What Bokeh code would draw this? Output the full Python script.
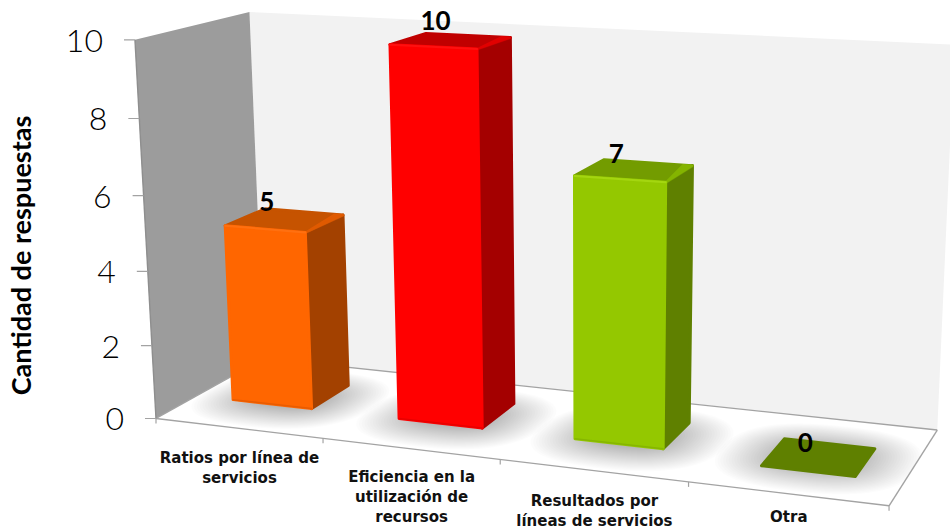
import numpy as np
from bokeh.embed import file_html
from bokeh.models import Range1d
from bokeh.plotting import figure
from bokeh.resources import INLINE
from bokeh.core.properties import value as fixed

# Chart content
categories = ["Ratios por línea de\nservicios",
              "Eficiencia en la\nutilización de\nrecursos",
              "Resultados por\nlíneas de servicios",
              "Otra"]
responses = [5, 10, 7, 0]
y_ticks = [0, 2, 4, 6, 8, 10]
y_title = "Cantidad de respuestas"

# Bar colours: front, side, top, rim on the front's upper edge, glint at the rear top corner
front_colors = ["#FF6600", "#FF0000", "#94C800", "#5F8000"]
side_colors = ["#A34100", "#A40000", "#5F8000", "#5F8000"]
top_colors = ["#C65300", "#C00000", "#739C00", "#5F8000"]
rim_colors = ["#FF7010", "#FF1010", "#A4D610", "#5F8000"]
glint_colors = ["#E05A00", "#E00000", "#84B400", "#5F8000"]
foot_colors = ["#E85C00", "#E80000", "#86B600", "#5F8000"]

# Camera calibration: box corners (category, value, depth) and where they land on the page
model_pts = [(0, 0, 0), (0, 10, 0), (0, 10, 1), (0, 0, 1),
             (4, 0, 0), (4, 0, 1), (4, 10, 1),
             (1, 0, 0), (2, 0, 0), (3, 0, 0), (0, 5, 0)]
page_pts = [(156, 417), (135, 39), (249, 12), (263, 358),
            (888, 505), (937, 429), (954, 44),
            (323, 438), (500, 460), (688, 482), (144, 233)]


def fit_camera(model, page):
    rows = []
    for (X, Y, Z), (u, v) in zip(model, page):
        rows.append([X, Y, Z, 1, 0, 0, 0, 0, -u * X, -u * Y, -u * Z, -u])
        rows.append([0, 0, 0, 0, X, Y, Z, 1, -v * X, -v * Y, -v * Z, -v])
    return np.linalg.svd(np.array(rows, dtype=float))[2][-1].reshape(3, 4)


CAM = fit_camera(model_pts, page_pts)


def proj(x, y, z):
    h = CAM @ np.array([x, y, z, 1.0])
    return h[0] / h[2], h[1] / h[2]


def poly(corners):
    pts = [proj(*c) for c in corners]
    return [a for a, _ in pts], [b for _, b in pts]


p = figure(width=950, height=529, output_backend="svg", toolbar_location=None,
           x_range=Range1d(0, 950), y_range=Range1d(529, 0),
           min_border=0, outline_line_color=None, background_fill_color="white")
p.axis.visible = False
p.grid.visible = False

# Walls and floor
xs, ys = poly([(0, 0, 1), (0, 10, 1), (4, 10, 1), (4, 0, 1)])
p.patch(xs, ys, fill_color="#F2F2F2", line_color=None)
xs, ys = poly([(0, 0, 0), (0, 10, 0), (0, 10, 1), (0, 0, 1)])
p.patch(xs, ys, fill_color="#9C9C9C", line_color=None)
xs, ys = poly([(0, 0, 0), (4, 0, 0), (4, 0, 1), (0, 0, 1)])
p.patch(xs, ys, fill_color="white", line_color=None)

# Bar footprint inside each category band, and its bevel insets in value units
BAR_X0, BAR_X1 = 0.275, 0.755
BAR_Z0, BAR_Z1 = 0.29, 0.66
BASE_INSET, TOP_INSET = 0.15, 0.06

# Soft contact shadows on the floor, built up from translucent rounded layers
theta = np.linspace(0, 2 * np.pi, 72)
for i in range(len(categories)):
    cx = i + (BAR_X0 + BAR_X1) / 2
    cz = (BAR_Z0 + BAR_Z1) / 2
    for k in range(24):
        t = k / 23
        hx = 0.20 + 0.31 * t
        hz = 0.15 + 0.29 * t
        ex = cx + hx * np.sign(np.cos(theta)) * np.abs(np.cos(theta)) ** 0.8
        ez = cz + hz * np.sign(np.sin(theta)) * np.abs(np.sin(theta)) ** 0.8
        ex = np.clip(ex, 0, 4)
        ez = np.clip(ez, 0.0, 1.0)
        sx, sy = poly([(a, 0, b) for a, b in zip(ex, ez)])
        p.patch(sx, sy, fill_color="black", fill_alpha=0.013, line_color=None)

# Box outlines
edge = "#A3A3A3"
for a, b in [((0, 0, 0), (4, 0, 0)), ((4, 0, 0), (4, 0, 1)), ((4, 0, 1), (0, 0, 1)),
             ((0, 0, 0), (0, 0, 1))]:
    xs, ys = poly([a, b])
    p.line(xs, ys, line_color=edge, line_width=1.4)
xs, ys = poly([(0, 0, 0), (0, 10, 0)])
p.line(xs, ys, line_color="#8E8E8E", line_width=1.4)

# Value axis ticks and labels
TICK_LEN = 11
for t in y_ticks:
    u, v = proj(0, t, 0)
    p.segment(u - TICK_LEN, v, u, v, line_color=edge, line_width=1.2)
    p.text([u - TICK_LEN - 21], [v + 1], text=[str(t)], text_align="right", text_baseline="middle",
           text_font=fixed("Lato Light"), text_font_size="32px", text_color="black")

# Category ticks
for i in range(len(categories) + 1):
    u, v = proj(i, 0, 0)
    p.segment(u, v, u, v + 5, line_color=edge, line_width=1.2)

# Bars, painted back-to-front per face
for i, val in enumerate(responses):
    x0, x1 = i + BAR_X0, i + BAR_X1
    if val > 0:
        lo, hi = BASE_INSET, val - TOP_INSET
        xs, ys = poly([(x1, lo, BAR_Z0), (x1, hi, BAR_Z0), (x1, hi, BAR_Z1), (x1, lo, BAR_Z1)])
        p.patch(xs, ys, fill_color=side_colors[i], line_color=side_colors[i], line_width=3, line_join="round")
        xs, ys = poly([(x0, hi, BAR_Z0), (x1, hi, BAR_Z0), (x1, hi, BAR_Z1), (x0, hi, BAR_Z1)])
        p.patch(xs, ys, fill_color=top_colors[i], line_color=top_colors[i], line_width=3, line_join="round")
        xs, ys = poly([(x1, hi, BAR_Z0), (x1, hi, BAR_Z1), (x1 - 0.05, hi, BAR_Z1)])
        p.patch(xs, ys, fill_color=glint_colors[i], line_color=glint_colors[i], line_width=2, line_join="round")
        xs, ys = poly([(x0, lo, BAR_Z0), (x1, lo, BAR_Z0), (x1, hi, BAR_Z0), (x0, hi, BAR_Z0)])
        p.patch(xs, ys, fill_color=front_colors[i], line_color=front_colors[i], line_width=3, line_join="round")
        xs, ys = poly([(x0, hi, BAR_Z0), (x1, hi, BAR_Z0)])
        p.line(xs, ys, line_color=rim_colors[i], line_width=2, line_cap="round")
        xs, ys = poly([(x0, lo, BAR_Z0), (x1, lo, BAR_Z0)])
        p.line(xs, ys, line_color=foot_colors[i], line_width=1.5, line_cap="round")
    else:
        xs, ys = poly([(x0, 0, BAR_Z0), (x1, 0, BAR_Z0), (x1, 0, BAR_Z1), (x0, 0, BAR_Z1)])
        p.patch(xs, ys, fill_color=front_colors[i], line_color=front_colors[i], line_width=3, line_join="round")

# Value labels, anchored to the top of each bar
value_label_dx = [-18, -15, -17, -12]
value_label_dy = [-15, -17, -14, -13]
for i, val in enumerate(responses):
    u, v = proj(i + 0.5, val, 0.5)
    p.text([u + value_label_dx[i]], [v + value_label_dy[i]], text=[str(val)],
           text_align="center", text_baseline="middle",
           text_font=fixed("Lato"), text_font_style="bold", text_font_size="26px", text_color="black")

# Category labels under the floor edge
label_nudge = [1, -1, 1, -6]
for i, cat in enumerate(categories):
    u0, v0 = proj(i, 0, 0)
    u1, v1 = proj(i + 1, 0, 0)
    for j, line in enumerate(cat.split("\n")):
        p.text([(u0 + u1) / 2], [(v0 + v1) / 2 + 29 + label_nudge[i] + j * 20], text=[line],
               text_align="center", text_baseline="middle",
               text_font=fixed("DejaVu Sans"), text_font_style="bold", text_font_size="15px", text_color="#111111")

# Axis title
p.text([20], [255], text=[y_title], angle=np.pi / 2, text_align="center", text_baseline="middle",
       text_font=fixed("Lato"), text_font_style="bold", text_font_size="27px", text_color="black")

open("out.html", "w").write(file_html(p, INLINE))
